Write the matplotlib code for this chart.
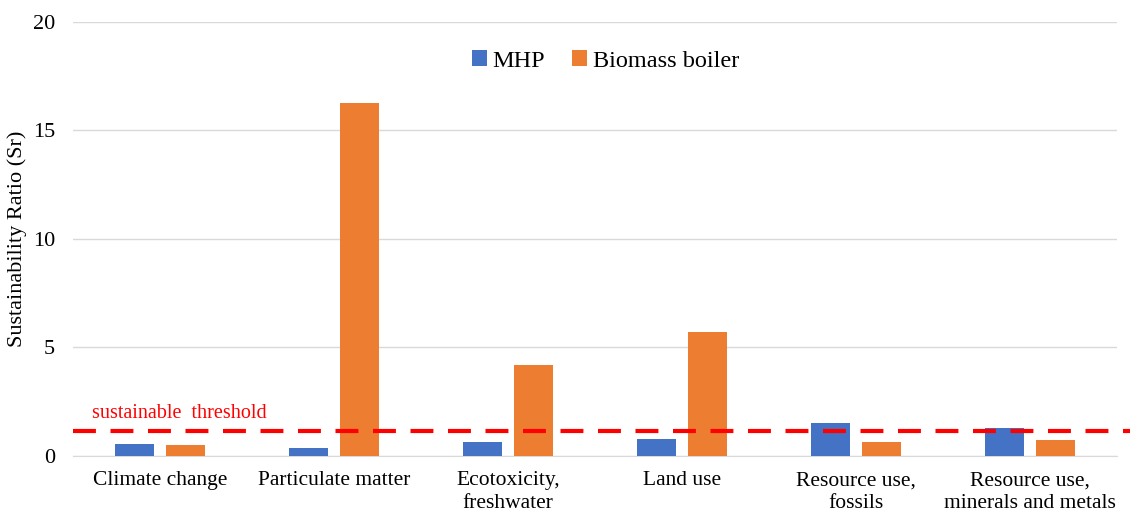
import matplotlib.pyplot as plt
import matplotlib.transforms as mtransforms
import numpy as np

categories = ["Climate change", "Particulate matter", "Ecotoxicity,\nfreshwater",
              "Land use", "Resource use,\nfossils", "Resource use,\nminerals and metals"]
mhp = [0.55, 0.35, 0.64, 0.78, 1.53, 1.27]
biomass = [0.49, 16.27, 4.2, 5.71, 0.66, 0.74]
threshold = 1.17

plt.rcParams['font.family'] = ['Liberation Serif', 'DejaVu Serif']

fig = plt.figure(figsize=(11.3, 5.15), dpi=100)
ax = fig.add_axes([0.0646, 0.1146, 0.9239, 0.8427])

x = np.arange(len(categories))
w = 0.224
off = 0.144
ax.bar(x - off, mhp, w, color='#4472C4', label='MHP', zorder=3)
ax.bar(x + off, biomass, w, color='#ED7D31', label='Biomass boiler', zorder=3)

trans = mtransforms.blended_transform_factory(ax.transAxes, ax.transData)
ax.plot([0, 1.012], [threshold, threshold], transform=trans, color='#FF0000',
        lw=3, dashes=(5.5, 3.5), clip_on=False, zorder=4)
ax.text(-0.39, threshold + 0.35, 'sustainable  threshold', color='#FF0000',
        fontsize=14.5, va='bottom', ha='left')

ax.set_xlim(-0.5, 5.5)
ax.set_ylim(0, 20)
ax.set_yticks([0, 5, 10, 15, 20])
ax.set_xticks(x)
ax.set_xticklabels(categories, fontsize=15.5, linespacing=1.3)
ax.tick_params(axis='y', labelsize=16, length=0, pad=13)
ax.tick_params(axis='x', length=0, pad=11)
ax.grid(axis='y', color='#D9D9D9', lw=1, zorder=0)
for s in ['top', 'right', 'left']:
    ax.spines[s].set_visible(False)
ax.spines['bottom'].set_color('#D9D9D9')
ax.set_ylabel('Sustainability Ratio (Sr)', fontsize=16, labelpad=4)

ax.legend(loc='upper center', bbox_to_anchor=(0.51, 0.985), ncol=2, frameon=False,
          fontsize=17.5, handlelength=0.6, handleheight=0.6, handletextpad=0.25,
          columnspacing=1.1)

fig.savefig('out.png')
